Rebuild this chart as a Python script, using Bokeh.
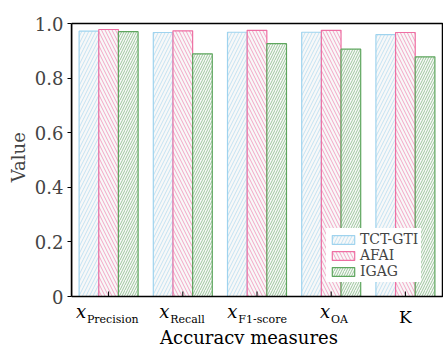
from bokeh.plotting import figure
from bokeh.models import Range1d, FixedTicker, Legend, LegendItem, ColumnDataSource
from bokeh.core.properties import value
from bokeh.embed import file_html
from bokeh.resources import INLINE
import numpy as np

categories = ["Precision", "Recall", "F1-score", "OA", "K"]
series = ["TCT-GTI", "AFAI", "IGAG"]
tct_gti = [0.972, 0.967, 0.968, 0.968, 0.959]
afai = [0.978, 0.973, 0.975, 0.975, 0.967]
igag = [0.970, 0.889, 0.926, 0.906, 0.878]
y_ticks = [0, 0.2, 0.4, 0.6, 0.8, 1.0]
y_tick_labels = ["0", "0.2", "0.4", "0.6", "0.8", "1.0"]
x_title = "Accuracy measures"
y_title = "Value"

FONT = "DejaVu Serif"
colors = ["#9fd3ee", "#ee6fa3", "#5ea65e"]
hatches = ["right_diagonal_line", "left_diagonal_line", "right_diagonal_line"]
scales = [7, 7, 5]

# page geometry (pixels)
W, H = 443, 344
LEFT = 71          # x = 0 (left edge of the box)
RIGHT_EDGE = 442   # x = n (right edge of the box)
TOP_EDGE = 23      # y = 1
BOTTOM_EDGE = 296  # y = 0
FRAME_TOP = 21
n = len(categories)
ppx = (RIGHT_EDGE - LEFT) / n
ppy = (BOTTOM_EDGE - TOP_EDGE) / 1.0

x_range = Range1d(0, n + (W - RIGHT_EDGE) / ppx)
y_range = Range1d(-(H - BOTTOM_EDGE) / ppy, 1.0 + (TOP_EDGE - FRAME_TOP) / ppy)

p = figure(width=W, height=H, output_backend="svg", toolbar_location=None,
           x_range=x_range, y_range=y_range, x_axis_type=None,
           min_border_left=LEFT, min_border_right=0, min_border_top=FRAME_TOP, min_border_bottom=0)
p.grid.visible = False
p.outline_line_color = None
p.background_fill_color = "white"
p.border_fill_color = "white"

idx = np.arange(n) + 0.5
bw = 0.265
renderers = []
for k, (vals, c, h, s) in enumerate(zip([tct_gti, afai, igag], colors, hatches, scales)):
    r = p.vbar(x=idx + (k - 1) * bw, top=vals, width=bw, bottom=0,
               fill_color="#f8f8f8", line_color=c, line_width=1.2,
               hatch_pattern=h, hatch_color=c, hatch_scale=s, hatch_weight=0.8, hatch_alpha=0.75)
    renderers.append(r)

# box around the plotting area and inward x ticks
p.quad(left=[0], right=[n], bottom=[0], top=[1.0], fill_color=None,
       line_color="black", line_width=1.5)
p.ray(x=idx, y=[0] * n, length=5, length_units="screen", angle=np.pi / 2,
      line_color="black", line_width=1)

legend = Legend(items=[LegendItem(label=s_, renderers=[r]) for s_, r in zip(series, renderers)],
                location=(255, 62), label_text_font=FONT, label_text_font_size="14px",
                glyph_width=28, glyph_height=11, spacing=-2, padding=3, margin=0,
                label_standoff=3, border_line_alpha=0, background_fill_alpha=1,
                label_height=11)
p.add_layout(legend)

# y axis (label padded with no-break spaces so it centres on the 0..1 box, not the whole frame)
p.yaxis.bounds = (0, 1.0)
p.yaxis.ticker = FixedTicker(ticks=y_ticks)
p.yaxis.major_label_overrides = {t: l for t, l in zip(y_ticks, y_tick_labels)}
p.yaxis.major_label_text_font = FONT
p.yaxis.major_label_text_font_size = "18px"
p.yaxis.major_label_standoff = 4
p.yaxis.major_tick_out = 4
p.yaxis.major_tick_in = 0
p.yaxis.minor_tick_line_color = None
p.yaxis.axis_line_width = 1.5
p.yaxis.axis_label = "\u00a0" * 9 + y_title
p.yaxis.axis_label_text_font = FONT
p.yaxis.axis_label_text_font_size = "18px"
p.yaxis.axis_label_text_font_style = "normal"
p.yaxis.axis_label_standoff = 3

# category labels below the box: italic x with subscript, K upright
def below(px):
    return -px / ppy

main_x, main_off, sub_x, sub_off, sub_txt = [], [], [], [], []
up_x, up_txt = [], []
for xc, cat in zip(idx, categories):
    if cat == "K":
        up_x.append(xc)
        up_txt.append(cat)
    else:
        xw = 10
        sw = len(cat) * 0.56 * 11
        left = -(xw + sw) / 2
        main_x.append(xc)
        main_off.append(left)
        sub_x.append(xc)
        sub_off.append(left + xw + 1)
        sub_txt.append(cat)

p.text(x="x", y="y", text="t", x_offset="o",
       source=ColumnDataSource(dict(x=main_x, y=[below(15)] * len(main_x), t=["x"] * len(main_x), o=main_off)),
       text_font=value(FONT), text_font_size="18px", text_font_style="italic",
       text_align="left", text_baseline="alphabetic", text_color="black")
p.text(x="x", y="y", text="t", x_offset="o",
       source=ColumnDataSource(dict(x=sub_x, y=[below(23)] * len(sub_x), t=sub_txt, o=sub_off)),
       text_font=value(FONT), text_font_size="11px",
       text_align="left", text_baseline="alphabetic", text_color="black")
p.text(x="x", y="y", text="t",
       source=ColumnDataSource(dict(x=up_x, y=[below(20)] * len(up_x), t=up_txt)),
       text_font=value(FONT), text_font_size="17px",
       text_align="center", text_baseline="alphabetic", text_color="black")
p.text(x=[n / 2], y=[below(41)], text=[x_title], x_offset=-8,
       text_font=value(FONT), text_font_size="18px",
       text_align="center", text_baseline="alphabetic", text_color="black")

open("out.html", "w").write(file_html(p, INLINE))
